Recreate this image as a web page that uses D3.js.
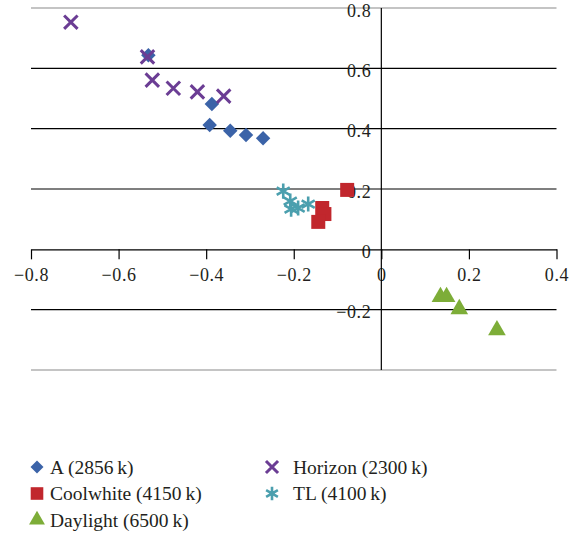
<!DOCTYPE html>
<html>
<head>
<meta charset="utf-8">
<script src="https://cdn.jsdelivr.net/npm/d3@7"></script>
<style>
  body { margin: 0; background: #fff; }
  text { font-family: "Liberation Serif", "DejaVu Serif", serif; fill: #231f20; }
</style>
</head>
<body>
<svg id="chart" width="570" height="537"></svg>
<script>
const SVG_WIDTH = 570;
const SVG_HEIGHT = 537;

// data (x, y)
const seriesA = [
  [-0.532, 0.643], [-0.387, 0.482], [-0.392, 0.412],
  [-0.345, 0.393], [-0.309, 0.379], [-0.270, 0.368]
];
const seriesCoolwhite = [
  [-0.078, 0.197], [-0.135, 0.137], [-0.130, 0.117], [-0.144, 0.091]
];
const seriesDaylight = [
  [0.135, -0.158], [0.149, -0.158], [0.178, -0.198], [0.264, -0.268]
];
const seriesHorizon = [
  [-0.709, 0.753], [-0.534, 0.638], [-0.523, 0.561],
  [-0.475, 0.534], [-0.420, 0.522], [-0.360, 0.508]
];
const seriesTL = [
  [-0.224, 0.193], [-0.208, 0.160], [-0.206, 0.133],
  [-0.190, 0.137], [-0.167, 0.150]
];

const xTicks = [-0.8, -0.6, -0.4, -0.2, 0, 0.2, 0.4];
const yTicks = [-0.4, -0.2, 0, 0.2, 0.4, 0.6, 0.8];

const legendNames = ["A (2856\u2009k)", "Coolwhite (4150\u2009k)", "Daylight (6500\u2009k)",
  "Horizon (2300\u2009k)", "TL (4100\u2009k)"];

const series = [
  { name: legendNames[0], data: seriesA, color: "#3b63a8", kind: "diamond" },
  { name: legendNames[1], data: seriesCoolwhite, color: "#c1272d", kind: "square" },
  { name: legendNames[2], data: seriesDaylight, color: "#7dad38", kind: "triangle" },
  { name: legendNames[3], data: seriesHorizon, color: "#6b3d94", kind: "x" },
  { name: legendNames[4], data: seriesTL, color: "#4b9fae", kind: "asterisk" }
];

const svg = d3.select("#chart");

const x = d3.scaleLinear().domain([-0.8, 0.4]).range([31, 556.5]);
const y = d3.scaleLinear().domain([-0.4, 0.8]).range([370, 8]);
const fmt = (d) => (d === 0 ? "0" : d3.format(".1f")(d));

// horizontal gridlines
svg.append("g")
  .selectAll("line")
  .data(yTicks.filter((d) => d !== 0))
  .join("line")
  .attr("x1", x(-0.8))
  .attr("x2", x(0.4))
  .attr("y1", (d) => y(d))
  .attr("y2", (d) => y(d))
  .attr("stroke", (d) => (d === 0.8 || d === -0.4 ? "#8a8a8a" : "#000"))
  .attr("stroke-width", 1.2);

// y axis (labels sit left of the vertical line, over the gridlines)
const yAxis = svg.append("g")
  .attr("transform", `translate(${x(0)},0)`)
  .call(d3.axisLeft(y).tickValues(yTicks.filter((d) => d !== -0.4)).tickSize(0).tickPadding(10).tickFormat(fmt));
yAxis.select(".domain").remove();
yAxis.selectAll("text")
  .attr("dy", "0.45em")
  .style("font-family", "Liberation Serif")
  .style("font-size", "18px")
  .style("letter-spacing", "0.6px")
  .attr("fill", "#231f20");

// x axis
const xAxis = svg.append("g")
  .attr("transform", `translate(0,${y(0)})`)
  .call(d3.axisBottom(x).tickValues(xTicks).tickSizeInner(10).tickSizeOuter(0).tickPadding(9).tickFormat(fmt));
xAxis.select(".domain").attr("stroke-width", 1.2);
xAxis.selectAll(".tick line").attr("stroke-width", 1.2);
xAxis.selectAll("text")
  .style("font-family", "Liberation Serif")
  .style("font-size", "18px")
  .style("letter-spacing", "0.6px")
  .attr("fill", "#231f20")
  .text((d) => (d < 0 ? "\u2212" + fmt(-d) : fmt(d)));

// vertical axis line goes through the x-axis "0" label
svg.append("line")
  .attr("x1", x(0)).attr("x2", x(0))
  .attr("y1", y(0.8)).attr("y2", y(-0.4))
  .attr("stroke", "#000")
  .attr("stroke-width", 1.2);

function symbolPath(kind, big) {
  const s = big ? 1 : 0.9;
  if (kind === "diamond") return d3.symbol(d3.symbolSquare, 105 * s * s)();
  if (kind === "square") return d3.symbol(d3.symbolSquare, 196 * s * s)();
  if (kind === "triangle") return d3.symbol(d3.symbolTriangle, 135 * s * s)();
  if (kind === "x") return d3.symbol(d3.symbolX, 120 * s * s)();
  return d3.symbol(d3.symbolAsterisk, 160 * s * s)();
}

function drawMarker(sel, d, big) {
  const stroked = d.kind === "x" || d.kind === "asterisk";
  sel.attr("d", symbolPath(d.kind, big))
    .attr("fill", stroked ? "none" : d.color)
    .attr("stroke", stroked ? d.color : "none")
    .attr("stroke-width", stroked ? (d.kind === "x" ? 3 : 2.6) : 0);
}

// points
const groups = svg.append("g")
  .selectAll("g")
  .data(series)
  .join("g");

groups.each(function (s) {
  d3.select(this)
    .selectAll("path")
    .data(s.data)
    .join("path")
    .attr("transform", (d) =>
      `translate(${x(d[0])},${y(d[1])})` + (s.kind === "diamond" ? " rotate(45)" : ""))
    .each(function () { drawMarker(d3.select(this), s, true); });
});

// legend
const legendPos = [[37, 467, 50], [37, 493.5, 50], [37, 520, 50], [272, 467, 293], [272, 493.5, 293]];
const legend = svg.append("g")
  .selectAll("g")
  .data(series)
  .join("g")
  .attr("transform", (d, i) => `translate(${legendPos[i][0]},${legendPos[i][1]})`);

legend.append("path")
  .attr("transform", (d) => (d.kind === "diamond" ? "rotate(45)" : null))
  .each(function (d) { drawMarker(d3.select(this), d, false); });

legend.append("text")
  .attr("x", (d, i) => legendPos[i][2] - legendPos[i][0])
  .attr("dy", "0.35em")
  .style("font-size", "19.5px")
  .text((d) => d.name);
</script>
</body>
</html>
